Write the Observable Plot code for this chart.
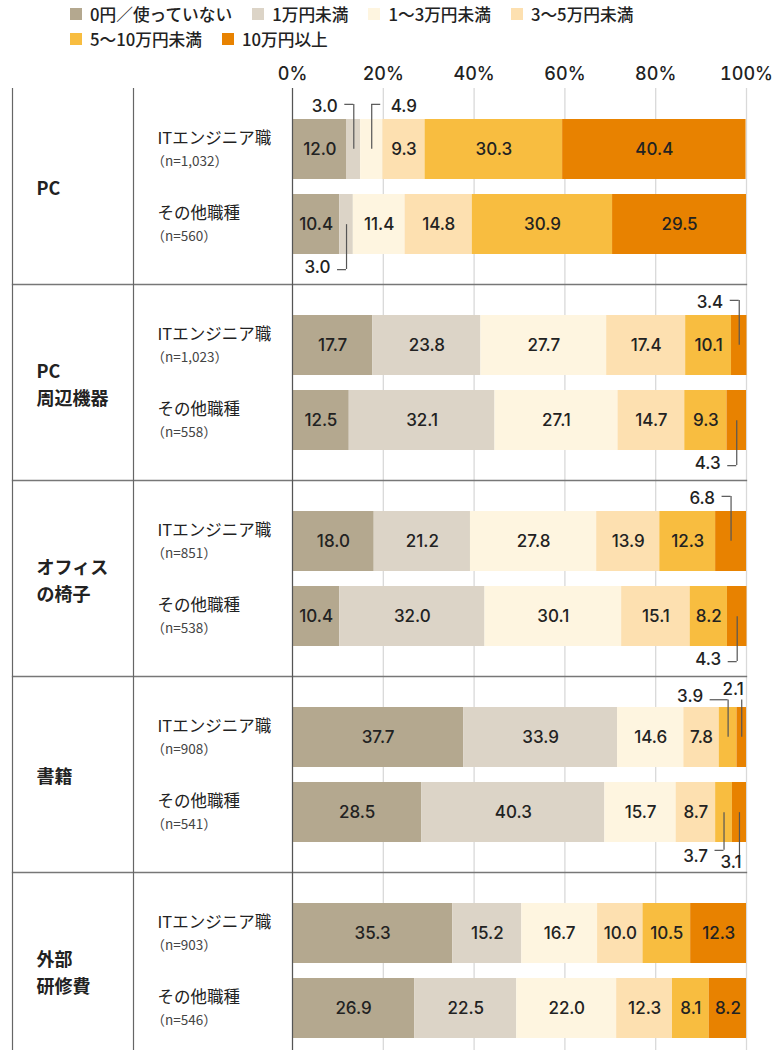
<!DOCTYPE html>
<html><head><meta charset="utf-8">
<script src="https://cdn.jsdelivr.net/npm/d3@7"></script>
<script src="https://cdn.jsdelivr.net/npm/@observablehq/plot@0.6"></script>
<style>
body{margin:0;background:#fff;font-family:"Noto Sans CJK JP",sans-serif;}
#legend{height:52px;box-sizing:border-box;padding:1px 0 0 70px;width:680px;display:flex;flex-wrap:wrap;align-content:flex-start;}
.item{display:flex;align-items:center;height:25px;margin-right:20px;font-size:16.7px;font-weight:500;color:#222;}
.sw{width:12px;height:12px;margin-right:8px;}
#chart{height:998px;overflow:hidden;}
#chart svg{display:block;}
</style></head><body>
<div id="legend"></div><div id="chart"></div>
<script>
// ---- data ----
const categories = ["0円／使っていない","1万円未満","1〜3万円未満","3〜5万円未満","5〜10万円未満","10万円以上"];
const colors = ["#b4a88f","#dcd4c7","#fef5e0","#fde0b0","#f8bd40","#e88200"];
const groups = ["PC","PC\n周辺機器","オフィス\nの椅子","書籍","外部\n研修費"];
const rowNames = ["ITエンジニア職","その他職種"];
const itN = ["1,032","1,023","851","908","903"];
const otherN = ["560","558","538","541","546"];
const itValues = [
  [12.0,3.0,4.9,9.3,30.3,40.4],
  [17.7,23.8,27.7,17.4,10.1,3.4],
  [18.0,21.2,27.8,13.9,12.3,6.8],
  [37.7,33.9,14.6,7.8,3.9,2.1],
  [35.3,15.2,16.7,10.0,10.5,12.3]
];
const otherValues = [
  [10.4,3.0,11.4,14.8,30.9,29.5],
  [12.5,32.1,27.1,14.7,9.3,4.3],
  [10.4,32.0,30.1,15.1,8.2,4.3],
  [28.5,40.3,15.7,8.7,3.7,3.1],
  [26.9,22.5,22.0,12.3,8.1,8.2]
];
const tickValues = [0,20,40,60,80,100];
const calloutThreshold = 7; // values below this are labelled outside the bar

// ---- tables built from the arrays ----
const data = [];
groups.forEach((g, gi) => {
  [itValues, otherValues].forEach((vals, ri) => {
    vals[gi].forEach((v, ci) => data.push({group: g, row: rowNames[ri], cat: categories[ci], value: v}));
  });
});
const rowLabels = [];
groups.forEach((g, gi) => {
  rowLabels.push({group: g, row: rowNames[0], n: itN[gi]});
  rowLabels.push({group: g, row: rowNames[1], n: otherN[gi]});
});

// callout layout (style only): side of label, leader lengths
const calloutStyle = {
  ["PC|" + rowNames[0] + "|" + categories[2]]: {side: "right"},
  ["書籍|" + rowNames[0] + "|" + categories[4]]: {lift: 7.6, labelLift: 11, tick: 18},
  ["書籍|" + rowNames[0] + "|" + categories[5]]: {side: "end", lift: 7.6, labelLift: 17.3},
  ["書籍|" + rowNames[1] + "|" + categories[4]]: {lift: 7.7, labelLift: 14},
  ["書籍|" + rowNames[1] + "|" + categories[5]]: {side: "end", lift: 15.7, labelLift: 19.4}
};

// ---- legend ----
const legend = document.getElementById("legend");
categories.forEach((c, i) => {
  const it = document.createElement("div"); it.className = "item";
  const sw = document.createElement("span"); sw.className = "sw"; sw.style.background = colors[i];
  it.appendChild(sw); it.appendChild(document.createTextNode(c));
  legend.appendChild(it);
});

// ---- layout ----
const facetH = 196, padIn = 0.2, padOut = 0.4;
const step = facetH / (2 - padIn + 2 * padOut);
const half = step * (1 - padIn) / 2;
const marginTop = 36;
const numFont = "Inter, 'Noto Sans', sans-serif";

const st = (extra) => Plot.stackX({x: "value", y: "row", fy: "group", z: "cat", order: categories, ...extra});

const calloutMarks = [];
data.filter(d => d.value < calloutThreshold).forEach(d => {
  const key = d.group + "|" + d.row + "|" + d.cat;
  const s = Object.assign({side: "left", lift: 15, labelLift: 13, tick: 9, gap: 7}, calloutStyle[key] || {});
  const above = d.row === rowNames[0];
  const sign = above ? -1 : 1;
  const match = e => e.group === d.group && e.row === d.row && e.cat === d.cat;
  // vertical leader from bar center to label level
  const st1 = st();
  calloutMarks.push(Plot.ruleX(data, Plot.filter(match, {
    ...st1, y1: st1.y, y2: st1.y, stroke: "#555", strokeWidth: 1.2,
    insetTop: above ? -s.lift : half, insetBottom: above ? half : -s.lift
  })));
  if (s.side !== "end") {
    const st2 = st();
    calloutMarks.push(Plot.ruleY(data, Plot.filter(match, {
      ...st2, x1: st2.x, x2: st2.x, stroke: "#555", strokeWidth: 1.2,
      dy: sign * (half + s.lift),
      insetLeft: s.side === "left" ? -s.tick : 0,
      insetRight: s.side === "right" ? -s.tick : 0
    })));
  }
  calloutMarks.push(Plot.text(data, Plot.filter(match, {
    ...st(), text: e => e.value.toFixed(1), fontSize: 17, fontWeight: 500, fontFamily: numFont, fill: "#222",
    textAnchor: s.side === "right" ? "start" : "end",
    dx: s.side === "left" ? -(s.tick + s.gap) : s.side === "right" ? (s.tick + s.gap + 3) : 2,
    dy: sign * (half + s.labelLift)
  })));
});

const plot = Plot.plot({
  width: 779,
  height: marginTop + facetH * groups.length,
  marginTop, marginBottom: 0, marginLeft: 292, marginRight: 33,
  style: {fontFamily: '"Noto Sans CJK JP", sans-serif', fontSize: "16px", color: "#222", background: "#fff", overflow: "visible"},
  x: {domain: [0, 100]},
  y: {domain: rowNames, paddingInner: padIn, paddingOuter: padOut, axis: null},
  fy: {domain: groups, padding: 0, axis: null},
  color: {domain: categories, range: colors},
  marks: [
    Plot.gridX(tickValues, {stroke: "#d9d9d9", strokeOpacity: 1, strokeWidth: 1.3}),
    Plot.axisX(tickValues, {anchor: "top", label: null, tickSize: 0, tickPadding: 9, tickFormat: d => d + "%", fontSize: 18, fontWeight: 500, fontFamily: numFont, fill: "#222"}),
    Plot.frame({anchor: "bottom", stroke: "#777", strokeWidth: 1.3, insetLeft: -280}),
    Plot.ruleX([0], {stroke: "#666", strokeWidth: 1.2, dx: -280}),
    Plot.ruleX([0], {stroke: "#666", strokeWidth: 1.2, dx: -159}),
    Plot.barX(data, Plot.stackX({x: "value", y: "row", fy: "group", fill: "cat", order: categories})),
    Plot.ruleX([0], {stroke: "#555", strokeWidth: 1.2}),
    Plot.text(data, st({text: d => d.value >= calloutThreshold ? d.value.toFixed(1) : "", fontSize: 17, fontWeight: 500, fontFamily: numFont, fill: "#222"})),
    ...calloutMarks,
    Plot.text(groups, {fy: d => d, text: d => d, frameAnchor: "left", dx: -256, textAnchor: "start", fontSize: 18, fontWeight: 600, lineHeight: 1.5, fill: "#222"}),
    Plot.text(rowLabels, {fy: "group", y: "row", text: "row", frameAnchor: "left", dx: -135, dy: -11, textAnchor: "start", fontSize: 16.5, fill: "#222"}),
    Plot.text(rowLabels, {fy: "group", y: "row", text: d => "（n=" + d.n + "）", frameAnchor: "left", dx: -141, dy: 12, textAnchor: "start", fontSize: 13.5, fill: "#444"})
  ]
});
document.getElementById("chart").appendChild(plot);
</script>
</body></html>
